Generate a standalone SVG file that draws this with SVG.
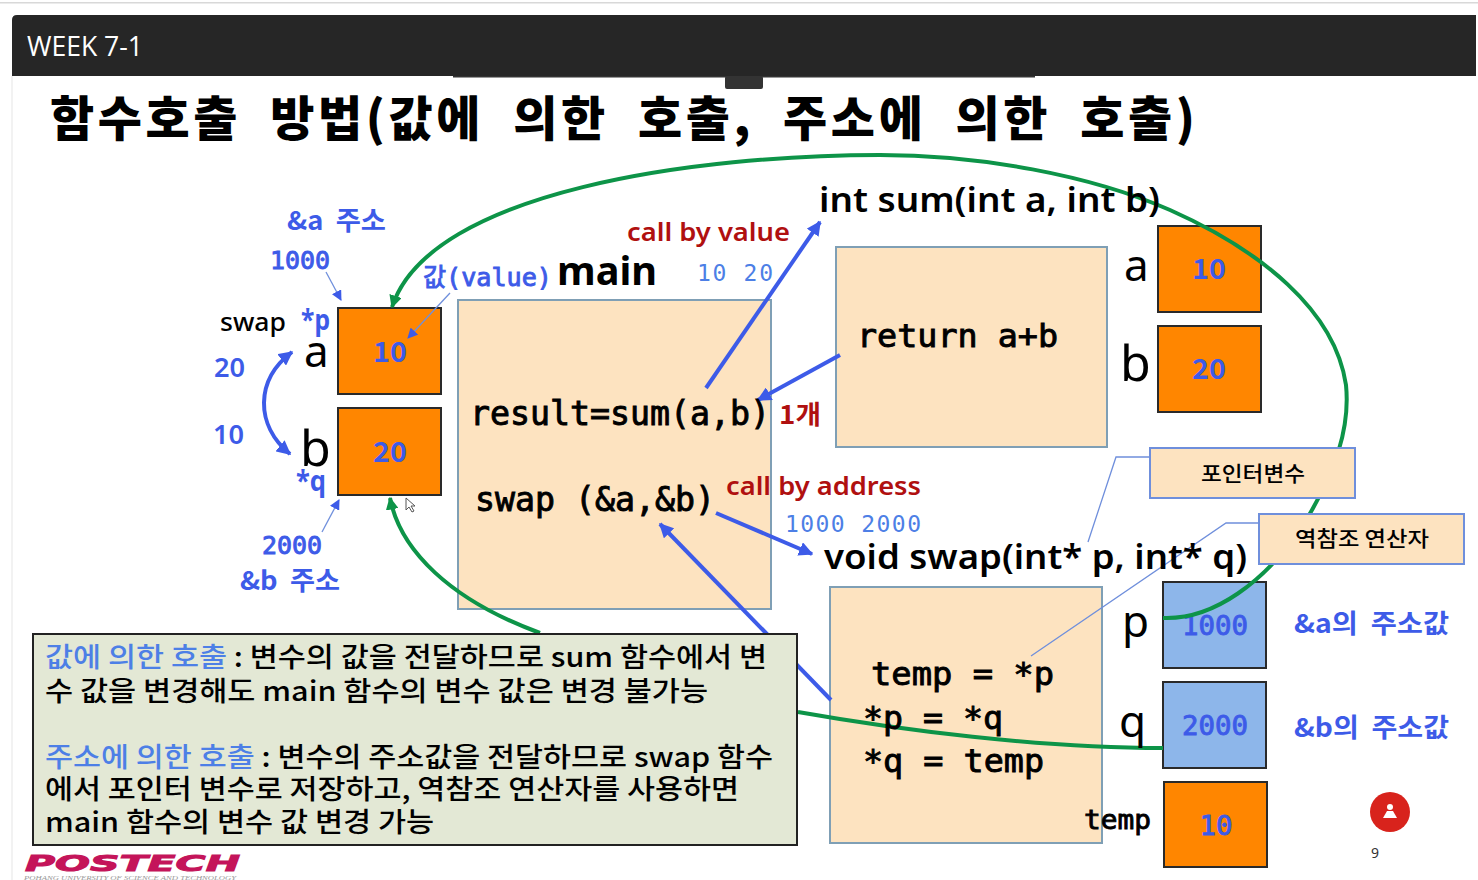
<svg xmlns="http://www.w3.org/2000/svg" width="1478" height="880" viewBox="0 0 1478 880">
<style>
text{font-family:"Noto Sans CJK KR","Noto Sans",sans-serif;white-space:pre}
.m{font-family:"DejaVu Sans Mono","Noto Sans CJK KR",monospace;stroke-width:.9}
.k{font-family:"Noto Sans CJK KR",sans-serif;font-weight:500}
.l{font-family:"Noto Sans",sans-serif}
.b{fill:#3d5be8}.lb{fill:#4d7fe6}.r{fill:#b01010}.d{fill:#000}
.m.d{stroke:#000}.m.b{stroke:#3d5be8}
.pe{fill:#fde3c0;stroke:#7f9fb5;stroke-width:2}
.or{fill:#ff8600;stroke:#2a2a2a;stroke-width:2}
.bl{fill:#8db6ea;stroke:#2a2a2a;stroke-width:2}
.co{fill:#fde3c0;stroke:#6f8fdc;stroke-width:2}
.g{fill:none;stroke:#0d9448;stroke-width:4}
.a{fill:none;stroke:#3d5be8;stroke-width:4}
.t{fill:none;stroke:#6f8fdc;stroke-width:1.3}
</style>
<defs>
<marker id="ab" viewBox="0 0 10 10" refX="9" refY="5" markerWidth="3.6" markerHeight="3.6" orient="auto-start-reverse" markerUnits="strokeWidth"><path d="M0 0L10 5L0 10Z" fill="#3d5be8"/></marker>
<marker id="ag" viewBox="0 0 10 10" refX="9" refY="5" markerWidth="3.2" markerHeight="3.2" orient="auto" markerUnits="strokeWidth"><path d="M0 0L10 5L0 10Z" fill="#0d9448"/></marker>
<marker id="at" viewBox="0 0 10 10" refX="9" refY="5" markerWidth="8" markerHeight="8" orient="auto" markerUnits="strokeWidth"><path d="M0 0L10 5L0 10Z" fill="#3d5be8"/></marker>
</defs>
<rect width="1478" height="880" fill="#fff"/>
<rect x="0" y="2" width="1478" height="1.500" fill="#d8d8d8"/>
<rect x="11.500" y="76" width="1" height="804" fill="#e6e6e6"/>
<g id="header">
<path d="M12 76V20Q12 15 17 15H1476V76Z" fill="#262626"/>
<rect x="453" y="76" width="582" height="1.500" fill="#333"/>
<rect x="725" y="76" width="38" height="13" rx="2" fill="#333"/>
<text x="27" y="56" font-size="27" fill="#fff" style="font-family:'Open Sans',sans-serif" textLength="116" lengthAdjust="spacingAndGlyphs">WEEK 7-1</text>
</g>
<text id="title" x="50" y="136" font-size="48" class="d" textLength="1145" lengthAdjust="spacing" style="font-weight:900">함수호출  방법(값에  의한  호출,  주소에  의한  호출)</text>

<g id="node-main"><rect class="pe" x="458" y="300" width="313" height="309"/></g>
<g id="node-sum"><rect class="pe" x="836" y="247" width="271" height="200"/></g>
<g id="node-swap"><rect class="pe" x="830" y="587" width="272" height="256"/></g>

<g id="node-a"><rect class="or" x="338" y="308" width="103" height="86"/><text class="b" x="390" y="362" font-size="28" font-weight="700" text-anchor="middle" textLength="34" lengthAdjust="spacingAndGlyphs">10</text></g>
<g id="node-b"><rect class="or" x="338" y="408" width="103" height="87"/><text class="b" x="390" y="462" font-size="28" font-weight="700" text-anchor="middle" textLength="34" lengthAdjust="spacingAndGlyphs">20</text></g>
<g id="node-sa"><rect class="or" x="1158" y="226" width="103" height="86"/><text class="b" x="1209" y="279" font-size="28" font-weight="700" text-anchor="middle" textLength="34" lengthAdjust="spacingAndGlyphs">10</text></g>
<g id="node-sb"><rect class="or" x="1158" y="326" width="103" height="86"/><text class="b" x="1209" y="379" font-size="28" font-weight="700" text-anchor="middle" textLength="34" lengthAdjust="spacingAndGlyphs">20</text></g>
<g id="node-p"><rect class="bl" x="1163" y="582" width="103" height="86"/><text class="m b" x="1215" y="635" font-size="27" text-anchor="middle" textLength="66" lengthAdjust="spacingAndGlyphs">1000</text></g>
<g id="node-q"><rect class="bl" x="1163" y="682" width="103" height="86"/><text class="m b" x="1215" y="735" font-size="27" text-anchor="middle" textLength="66" lengthAdjust="spacingAndGlyphs">2000</text></g>
<g id="node-temp"><rect class="or" x="1164" y="782" width="103" height="85"/><text class="m b" x="1216" y="835" font-size="27" text-anchor="middle" textLength="33" lengthAdjust="spacingAndGlyphs">10</text></g>

<g id="connectors">
<path class="g" marker-end="url(#ag)" d="M1163 618C1215 620 1265 580 1300 530C1338 470 1350 425 1346 385C1335 310 1260 250 1170 210C1090 175 980 155 880 155C700 155 430 190 392 307"/>
<path class="g" d="M1163 748C1040 748 900 730 798 712"/>
<path class="g" marker-end="url(#ag)" d="M540 633C450 600 400 550 390 498"/>
<path class="a" d="M706 388L820 222" marker-end="url(#ab)"/>
<path class="a" d="M840 355L758 400" marker-end="url(#ab)"/>
<path class="a" d="M716 513L812 554" marker-end="url(#ab)"/>
<path class="a" d="M831 700L660 524" marker-end="url(#ab)"/>
<path class="a" d="M292 352C255 380 255 425 290 454" marker-start="url(#ab)" marker-end="url(#ab)"/>
<path class="t" d="M326 272L341 300" marker-end="url(#at)"/>
<path class="t" d="M450 293L408 338" marker-end="url(#at)"/>
<path class="t" d="M322 532L339 500" marker-end="url(#at)"/>
<path class="t" d="M1088 542L1116 457H1150"/>
<path class="t" d="M1031 656L1226 523H1259"/>
</g>

<g id="callout-pointer"><rect class="co" x="1150" y="448" width="205" height="50"/><text class="k d" x="1253" y="481" font-size="21" text-anchor="middle" textLength="104" lengthAdjust="spacingAndGlyphs">포인터변수</text></g>
<g id="callout-deref"><rect class="co" x="1259" y="514" width="205" height="50"/><text class="k d" x="1362" y="546" font-size="21" text-anchor="middle" textLength="134" lengthAdjust="spacingAndGlyphs">역참조 연산자</text></g>

<g id="labels">
<text class="b" x="287" y="230" font-size="26" font-weight="700" textLength="99" lengthAdjust="spacingAndGlyphs">&amp;a  주소</text>
<text class="m b" x="270" y="269" font-size="24" textLength="60" lengthAdjust="spacingAndGlyphs">1000</text>
<text class="m b" x="423" y="286" font-size="25" textLength="129" lengthAdjust="spacingAndGlyphs">값(value)</text>
<text x="557" y="285" font-size="40" font-weight="700" class="d l" textLength="100" lengthAdjust="spacingAndGlyphs">main</text>
<text class="r l" x="627" y="241" font-size="26" font-weight="600" textLength="163" lengthAdjust="spacingAndGlyphs">call by value</text>
<text class="lb" x="697" y="281" font-size="23" style="font-family:'DejaVu Sans Mono',monospace" textLength="76" lengthAdjust="spacing">10 20</text>
<text x="819" y="212" font-size="35" font-weight="600" class="d l" textLength="341" lengthAdjust="spacingAndGlyphs">int sum(int a, int b)</text>
<text class="m d" x="857" y="347" font-size="32" textLength="201" lengthAdjust="spacingAndGlyphs">return a+b</text>
<text x="1124" y="281" font-size="44" class="d l">a</text>
<text x="1120" y="381" font-size="50" class="d l">b</text>
<text x="220" y="331" font-size="26" font-weight="500" class="d l" textLength="66" lengthAdjust="spacingAndGlyphs">swap</text>
<text class="b l" x="301" y="330" font-size="29" font-weight="700" textLength="29" lengthAdjust="spacingAndGlyphs">*p</text>
<text x="304" y="367" font-size="44" class="d l">a</text>
<text x="300" y="466" font-size="50" class="d l">b</text>
<text class="b l" x="296" y="491" font-size="29" font-weight="700" textLength="30" lengthAdjust="spacingAndGlyphs">*q</text>
<text class="b l" x="214" y="377" font-size="27" font-weight="600" textLength="31" lengthAdjust="spacingAndGlyphs">20</text>
<text class="b l" x="213" y="444" font-size="27" font-weight="600" textLength="31" lengthAdjust="spacingAndGlyphs">10</text>
<text class="m b" x="262" y="554" font-size="24" textLength="60" lengthAdjust="spacingAndGlyphs">2000</text>
<text class="b" x="240" y="590" font-size="26" font-weight="700" textLength="100" lengthAdjust="spacingAndGlyphs">&amp;b  주소</text>
<text class="m d" x="470" y="425" font-size="33" textLength="300" lengthAdjust="spacingAndGlyphs">result=sum(a,b)</text>
<text class="r" x="779" y="424" font-size="26" font-weight="700" textLength="42" lengthAdjust="spacingAndGlyphs">1개</text>
<text class="m d" x="475" y="511" font-size="33" textLength="240" lengthAdjust="spacingAndGlyphs">swap (&amp;a,&amp;b)</text>
<text class="r l" x="726" y="495" font-size="26" font-weight="600" textLength="195" lengthAdjust="spacingAndGlyphs">call by address</text>
<text class="lb" x="785" y="532" font-size="23" style="font-family:'DejaVu Sans Mono',monospace" textLength="136" lengthAdjust="spacing">1000 2000</text>
<text x="824" y="569" font-size="35" font-weight="600" class="d l" textLength="423" lengthAdjust="spacingAndGlyphs">void swap(int* p, int* q)</text>
<text class="m d" x="871" y="685" font-size="32" textLength="183" lengthAdjust="spacingAndGlyphs">temp = *p</text>
<text class="m d" x="863" y="729" font-size="32" textLength="140" lengthAdjust="spacingAndGlyphs">*p = *q</text>
<text class="m d" x="863" y="772" font-size="32" textLength="181" lengthAdjust="spacingAndGlyphs">*q = temp</text>
<text class="m d" x="1084" y="829" font-size="27" textLength="67" lengthAdjust="spacingAndGlyphs">temp</text>
<text x="1122" y="637" font-size="44" class="d l">p</text>
<text x="1119" y="737" font-size="44" class="d l">q</text>
<text class="b" x="1294" y="633" font-size="26" font-weight="700" textLength="155" lengthAdjust="spacingAndGlyphs">&amp;a의  주소값</text>
<text class="b" x="1294" y="737" font-size="26" font-weight="700" textLength="155" lengthAdjust="spacingAndGlyphs">&amp;b의  주소값</text>
<text x="1371" y="858" font-size="14" fill="#333" class="l">9</text>
</g>

<g id="note">
<rect x="33" y="634" width="764" height="211" fill="#e3e8d5" stroke="#222" stroke-width="2"/>
<g font-size="27" font-weight="500" class="d">
<text x="45" y="667" textLength="722" lengthAdjust="spacingAndGlyphs"><tspan fill="#4d7fe6">값에 의한 호출</tspan> : 변수의 값을 전달하므로 sum 함수에서 변</text>
<text x="45" y="701" textLength="663" lengthAdjust="spacingAndGlyphs">수 값을 변경해도 main 함수의 변수 값은 변경 불가능</text>
<text x="45" y="767" textLength="728" lengthAdjust="spacingAndGlyphs"><tspan fill="#4d7fe6">주소에 의한 호출</tspan> : 변수의 주소값을 전달하므로 swap 함수</text>
<text x="45" y="799" textLength="694" lengthAdjust="spacingAndGlyphs">에서 포인터 변수로 저장하고, 역참조 연산자를 사용하면</text>
<text x="45" y="832" textLength="389" lengthAdjust="spacingAndGlyphs">main 함수의 변수 값 변경 가능</text>
</g>
</g>

<g id="logo">
<text x="25" y="871" font-size="22" font-weight="700" font-style="italic" fill="#c4145a" stroke="#c4145a" stroke-width="1" style="font-family:'DejaVu Sans',sans-serif" textLength="215" lengthAdjust="spacingAndGlyphs">POSTECH</text>
<text x="24" y="880" font-size="6" font-style="italic" fill="#999" style="font-family:'Liberation Serif',serif" textLength="212" lengthAdjust="spacingAndGlyphs">POHANG UNIVERSITY OF SCIENCE AND TECHNOLOGY</text>
</g>

<g id="badge">
<circle cx="1390" cy="812" r="20" fill="#d8231c"/>
<circle cx="1390" cy="807" r="3" fill="#fff"/>
<path d="M1383 818L1387 811H1393L1397 818Z" fill="#fff"/>
</g>
<g id="cursor"><path d="M406 498V510L409 507L412 512L414 511L411 506H415Z" fill="#fff" stroke="#555" stroke-width="1"/></g>
</svg>
